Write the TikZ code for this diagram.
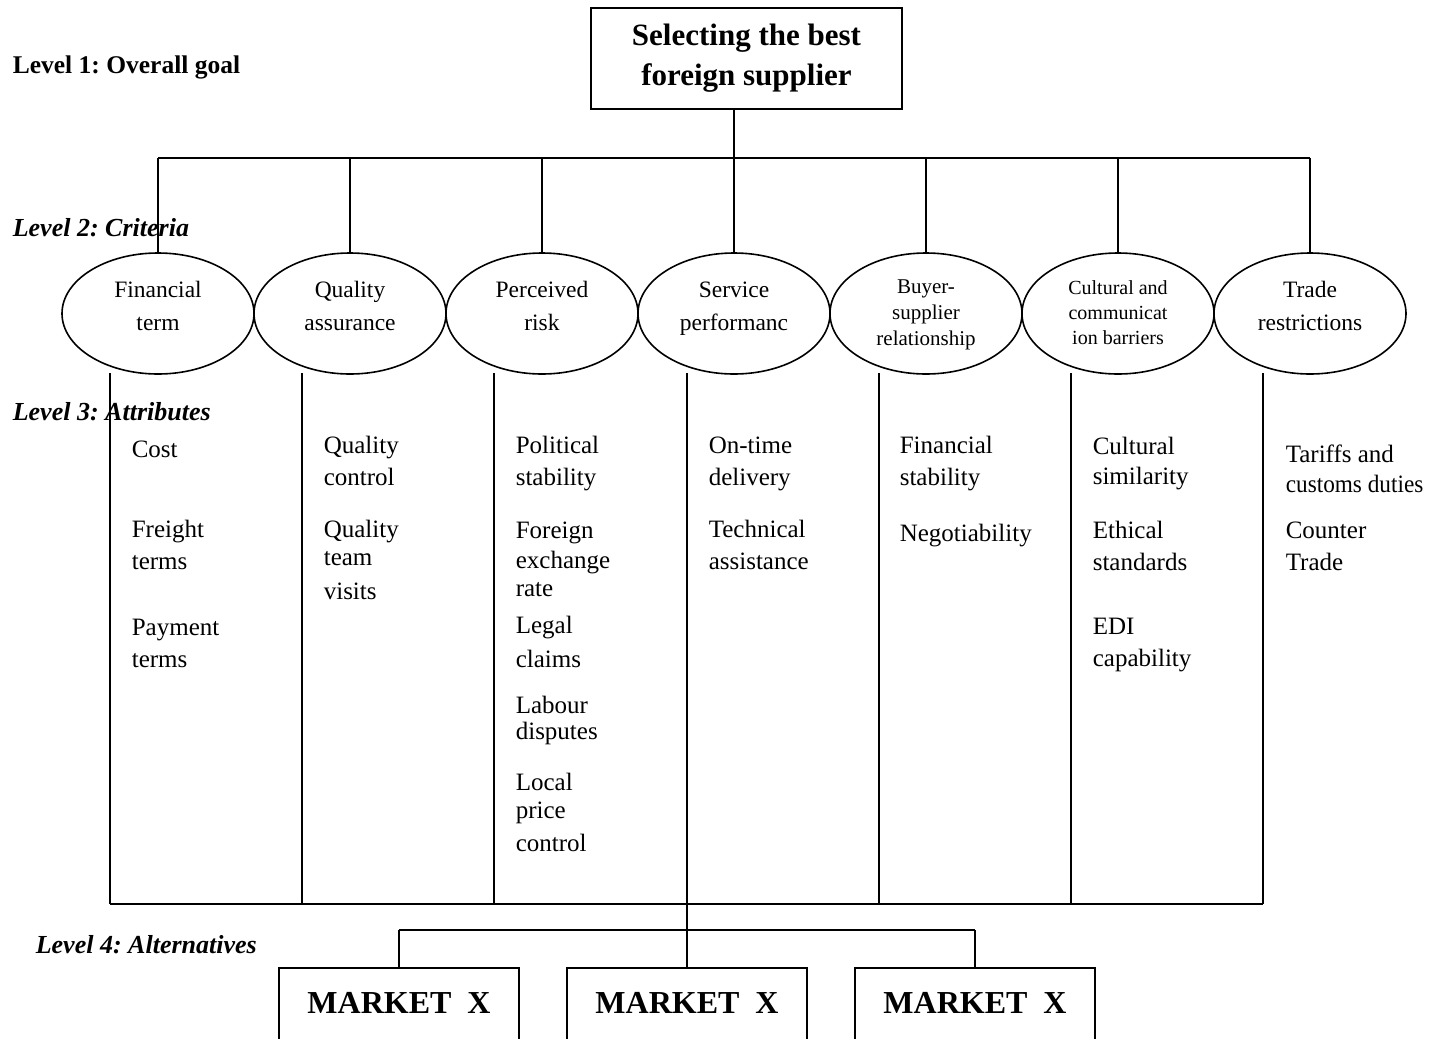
\documentclass[tikz,border=0pt]{standalone}
\usepackage{fontspec}
\setmainfont{Liberation Serif}
\usetikzlibrary{shapes.geometric}
\frenchspacing

\begin{document}
\begin{tikzpicture}[x=1pt,y=-1pt,
  line width=1.6pt,
  goalbox/.style={draw,rectangle,minimum width=311pt,minimum height=101pt,inner sep=0pt,align=center,
    font=\fontsize{31}{40}\bfseries\selectfont},
  crit/.style={draw,ellipse,minimum width=192pt,minimum height=121pt,inner sep=0pt},
  ctxt/.style={anchor=base,inner sep=0pt,font=\fontsize{23.5}{28}\selectfont},
  ctxtsm/.style={anchor=base,inner sep=0pt,font=\fontsize{21}{25}\selectfont},
  ctxtxs/.style={anchor=base,inner sep=0pt,font=\fontsize{20}{24}\selectfont},
  attr/.style={anchor=base west,inner sep=0pt,font=\fontsize{25}{30}\selectfont},
  lvl/.style={anchor=base west,inner sep=0pt,font=\fontsize{26}{30}\bfseries\itshape\selectfont},
  market/.style={draw,rectangle,minimum width=240pt,minimum height=90pt,inner sep=0pt,
    text height=22pt,text depth=22pt,font=\fontsize{32}{36}\bfseries\selectfont}
]
\useasboundingbox (0,0) rectangle (1449,1039);
\clip (0,0) rectangle (1449,1039);

% ---- level labels
\node[anchor=base west,inner sep=0pt,font=\fontsize{25.5}{30}\bfseries\selectfont] (lv1) at (12,73) {Level 1: Overall goal};
\node[lvl] (lv2) at (12,236) {Level 2: Criteria};
\node[lvl] (lv4) at (35,953) {Level 4: Alternatives};

% ---- goal
\node[goalbox] (goal) at (746.5,58.5) {Selecting the best\\foreign supplier};

% ---- criteria ellipses
\node[crit] (e1) at (158,313.5) {};
\node[crit] (e2) at (350,313.5) {};
\node[crit] (e3) at (542,313.5) {};
\node[crit] (e4) at (734,313.5) {};
\node[crit] (e5) at (926,313.5) {};
\node[crit] (e6) at (1118,313.5) {};
\node[crit] (e7) at (1310,313.5) {};

\node[ctxt] (e1a) at (158,297) {Financial};
\node[ctxt] (e1b) at (158,330) {term};
\node[ctxt] (e2a) at (350,297) {Quality};
\node[ctxt] (e2b) at (350,330) {assurance};
\node[ctxt] (e3a) at (542,297) {Perceived};
\node[ctxt] (e3b) at (542,330) {risk};
\node[ctxt] (e4a) at (734,297) {Service};
\node[ctxt] (e4b) at (734,330) {performanc};
\node[ctxtsm] (e5a) at (926,293) {Buyer-};
\node[ctxtsm] (e5b) at (926,319) {supplier};
\node[ctxtsm] (e5c) at (926,345) {relationship};
\node[ctxtxs] (e6a) at (1118,294) {Cultural and};
\node[ctxtxs] (e6b) at (1118,319) {communicat};
\node[ctxtxs] (e6c) at (1118,344) {ion barriers};
\node[ctxt] (e7a) at (1310,297) {Trade};
\node[ctxt] (e7b) at (1310,330) {restrictions};

% ---- goal to criteria
\coordinate (busL) at (158,158);
\coordinate (busR) at (1310,158);
\draw (e4.north |- goal.south) -- (e4.north);
\draw (busL) -- (busR);
\foreach \i in {1,2,3,5,6,7} {
  \draw (e\i.north |- busL) -- (e\i.north);
}

% ---- attribute columns
\foreach \i/\x in {1/110,2/302,3/494,4/687,5/879,6/1071,7/1263} {
  \coordinate (a\i) at (\x,373);
  \coordinate (b\i) at (\x,904);
  \draw (a\i) -- (b\i);
}
\draw (b1) -- (b7);

\node[lvl] (lv3) at (12,420) {Level 3: Attributes};

% column 1
\node[attr] (t11) at (131,457) {Cost};
\node[attr] (t12) at (131,537) {Freight};
\node[attr] (t13) at (131,569) {terms};
\node[attr] (t14) at (131,635) {Payment};
\node[attr] (t15) at (131,667) {terms};
% column 2
\node[attr] (t21) at (323,453) {Quality};
\node[attr] (t22) at (323,485) {control};
\node[attr] (t23) at (323,537) {Quality};
\node[attr] (t24) at (323,565) {team};
\node[attr] (t25) at (323,599) {visits};
% column 3
\node[attr] (t31) at (515,453) {Political};
\node[attr] (t32) at (515,485) {stability};
\node[attr] (t33) at (515,538) {Foreign};
\node[attr] (t34) at (515,568) {exchange};
\node[attr] (t35) at (515,596) {rate};
\node[attr] (t36) at (515,633) {Legal};
\node[attr] (t37) at (515,667) {claims};
\node[attr] (t38) at (515,713) {Labour};
\node[attr] (t39) at (515,739) {disputes};
\node[attr] (t3a) at (515,790) {Local};
\node[attr] (t3b) at (515,818) {price};
\node[attr] (t3c) at (515,851) {control};
% column 4
\node[attr] (t41) at (708,453) {On-time};
\node[attr] (t42) at (708,485) {delivery};
\node[attr] (t43) at (708,537) {Technical};
\node[attr] (t44) at (708,569) {assistance};
% column 5
\node[attr] (t51) at (899,453) {Financial};
\node[attr] (t52) at (899,485) {stability};
\node[attr] (t53) at (899,541) {Negotiability};
% column 6
\node[attr] (t61) at (1092,454) {Cultural};
\node[attr] (t62) at (1092,484) {similarity};
\node[attr] (t63) at (1092,538) {Ethical};
\node[attr] (t64) at (1092,570) {standards};
\node[attr] (t65) at (1092,634) {EDI};
\node[attr] (t66) at (1092,666) {capability};
% column 7
\node[attr] (t71) at (1285,462) {Tariffs and};
\node[attr] (t72) at (1285,492) {\scalebox{0.93}[1]{customs duties}};
\node[attr] (t73) at (1285,538) {Counter};
\node[attr] (t74) at (1285,570) {Trade};

% ---- alternatives
\node[market] (m1) at (399,1013) {MARKET~~X};
\node[market] (m2) at (687,1013) {MARKET~~X};
\node[market] (m3) at (975,1013) {MARKET~~X};

\coordinate (altL) at (399,930);
\coordinate (altR) at (975,930);
\draw (b4) -- (m2.north);
\draw (altL) -- (altR);
\draw (altL) -- (m1.north);
\draw (altR) -- (m3.north);
\end{tikzpicture}
\end{document}
